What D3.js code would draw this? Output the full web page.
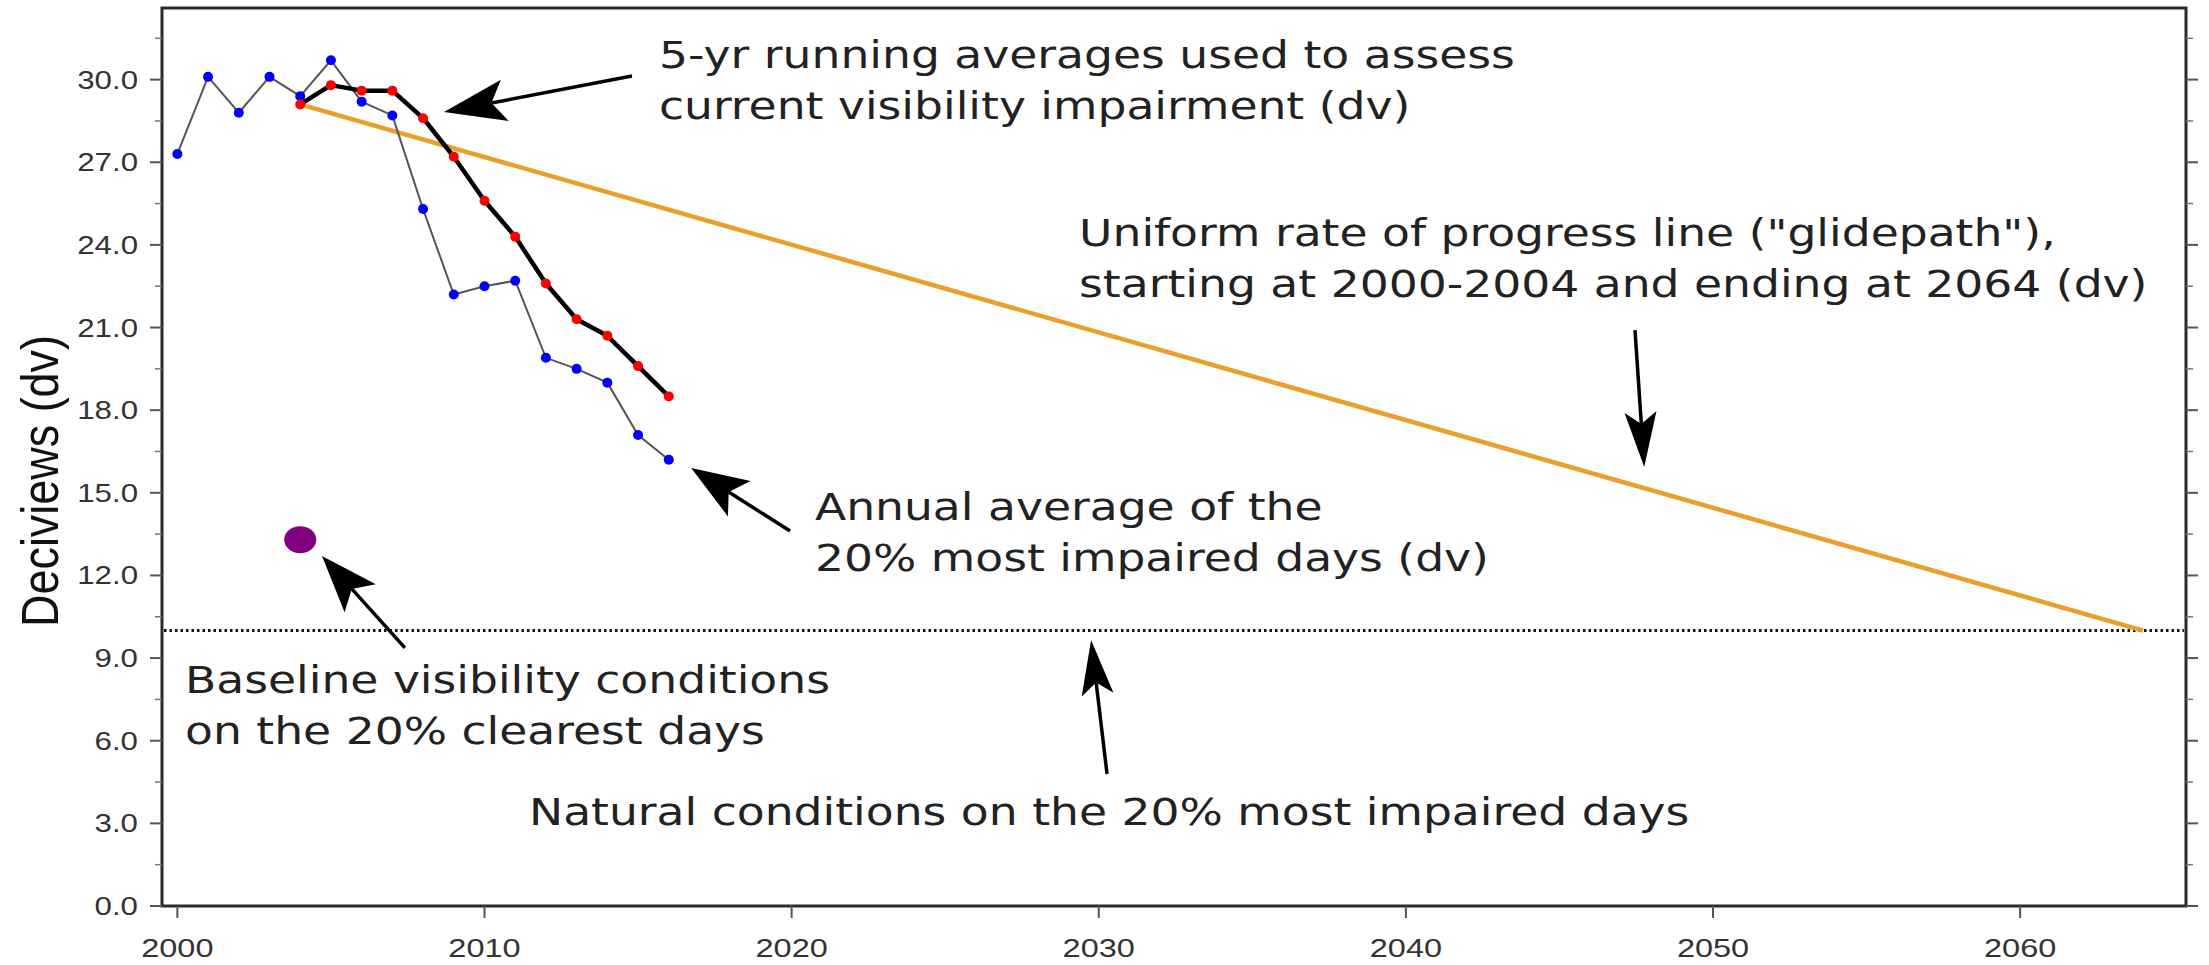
<!DOCTYPE html>
<html>
<head>
<meta charset="utf-8">
<script src="https://cdn.jsdelivr.net/npm/d3@7/dist/d3.min.js"></script>
<style>
  html, body { margin: 0; padding: 0; background: #fff; }
  svg { display: block; }
</style>
</head>
<body>
<svg id="chart" width="2209" height="965"></svg>
<script>
// ---------------- data ----------------
const annualYears = [2000, 2001, 2002, 2003, 2004, 2005, 2006, 2007, 2008, 2009, 2010, 2011, 2012, 2013, 2014, 2015, 2016];
const annualValues = [27.3, 30.1, 28.8, 30.1, 29.4, 30.7, 29.2, 28.7, 25.3, 22.2, 22.5, 22.7, 19.9, 19.5, 19.0, 17.1, 16.2];

const runningYears = [2004, 2005, 2006, 2007, 2008, 2009, 2010, 2011, 2012, 2013, 2014, 2015, 2016];
const runningValues = [29.1, 29.8, 29.6, 29.6, 28.6, 27.2, 25.6, 24.3, 22.6, 21.3, 20.7, 19.6, 18.5];

const glideYears = [2004, 2064];
const glideValues = [29.1, 10.0];

const naturalValue = 10.0;
const baselineYear = 2004;
const baselineValue = 13.3;

const xTickValues = [2000, 2010, 2020, 2030, 2040, 2050, 2060];
const yTickValues = [0, 3, 6, 9, 12, 15, 18, 21, 24, 27, 30];
const yMinorTickValues = [1.5, 4.5, 7.5, 10.5, 13.5, 16.5, 19.5, 22.5, 25.5, 28.5, 31.5];
const yAxisTitle = "Deciviews (dv)";

// annotations: text lines anchored in data units, arrows in data units [year, dv]
const annotations = [
  { lines: ["5-yr running averages used to assess", "current visibility impairment (dv)"], at: [2015.68, 30.42] },
  { lines: ["Uniform rate of progress line (\"glidepath\"),", "starting at 2000-2004 and ending at 2064 (dv)"], at: [2029.36, 23.96] },
  { lines: ["Annual average of the", "20% most impaired days (dv)"], at: [2020.76, 14.01] },
  { lines: ["Baseline visibility conditions", "on the 20% clearest days"], at: [2000.25, 7.73] },
  { lines: ["Natural conditions on the 20% most impaired days"], at: [2011.45, 2.94] }
];
const arrows = [
  { from: [2014.80, 30.13], to: [2008.68, 28.82], len: 62, half: 21 },
  { from: [2047.46, 20.91], to: [2047.76, 15.94], len: 55, half: 16 },
  { from: [2019.95, 13.61], to: [2016.73, 15.90], len: 57, half: 21 },
  { from: [2007.41, 9.37], to: [2004.71, 12.71], len: 57, half: 21 },
  { from: [2030.27, 4.79], to: [2029.75, 9.66], len: 55, half: 16 }
];

// ---------------- layout ----------------
const plot = { left: 162, right: 2186, top: 8, bottom: 906 };
const stretch = 1.25; // the reference is horizontally stretched

const svg = d3.select("#chart");
const x = d3.scaleLinear().domain([1999.5, 2065.4]).range([plot.left, plot.right]);
const y = d3.scaleLinear().domain([0, 32.6]).range([plot.bottom, plot.top]);

const axisColor = "#2a2a2a";

// frame
svg.append("rect")
  .attr("x", plot.left).attr("y", plot.top)
  .attr("width", plot.right - plot.left).attr("height", plot.bottom - plot.top)
  .attr("fill", "none").attr("stroke", axisColor).attr("stroke-width", 3);

// left axis ticks
const gl = svg.append("g");
gl.selectAll("line.maj").data(yTickValues).join("line")
  .attr("x1", plot.left - 12).attr("x2", plot.left)
  .attr("y1", d => y(d)).attr("y2", d => y(d))
  .attr("stroke", "#555").attr("stroke-width", 2);
gl.selectAll("line.min").data(yMinorTickValues).join("line")
  .attr("class", "min")
  .attr("x1", plot.left - 7).attr("x2", plot.left)
  .attr("y1", d => y(d)).attr("y2", d => y(d))
  .attr("stroke", "#777").attr("stroke-width", 1.5);
gl.selectAll("text").data(yTickValues).join("text")
  .attr("transform", d => `translate(${plot.left - 24},${y(d)}) scale(${stretch},1)`)
  .attr("text-anchor", "end").attr("dy", "0.36em")
  .attr("font-family", "'Liberation Sans', Arial, sans-serif")
  .attr("font-size", 25).attr("fill", "#333")
  .text(d => d.toFixed(1));

// right axis ticks (outward)
const gr = svg.append("g");
gr.selectAll("line.maj").data(yTickValues).join("line")
  .attr("x1", plot.right).attr("x2", plot.right + 12)
  .attr("y1", d => y(d)).attr("y2", d => y(d))
  .attr("stroke", "#555").attr("stroke-width", 2);
gr.selectAll("line.min").data(yMinorTickValues).join("line")
  .attr("class", "min")
  .attr("x1", plot.right).attr("x2", plot.right + 7)
  .attr("y1", d => y(d)).attr("y2", d => y(d))
  .attr("stroke", "#777").attr("stroke-width", 1.5);

// bottom axis ticks + labels
const gb = svg.append("g");
gb.selectAll("line").data(xTickValues).join("line")
  .attr("x1", d => x(d)).attr("x2", d => x(d))
  .attr("y1", plot.bottom).attr("y2", plot.bottom + 12)
  .attr("stroke", "#555").attr("stroke-width", 2);
gb.selectAll("text").data(xTickValues).join("text")
  .attr("transform", d => `translate(${x(d)},${plot.bottom + 51}) scale(${stretch},1)`)
  .attr("text-anchor", "middle")
  .attr("font-family", "'Liberation Sans', Arial, sans-serif")
  .attr("font-size", 26).attr("fill", "#333")
  .text(d => d);

// y axis title (length forced to match the reference)
svg.append("text")
  .attr("transform", `translate(39,481) scale(${stretch},1) rotate(-90)`)
  .attr("text-anchor", "middle").attr("dy", "0.36em")
  .attr("font-family", "'Liberation Sans', Arial, sans-serif")
  .attr("font-size", 42).attr("fill", "#111")
  .attr("textLength", 292).attr("lengthAdjust", "spacingAndGlyphs")
  .text(yAxisTitle);

// natural conditions dotted line
svg.append("line")
  .attr("x1", plot.left + 2).attr("x2", plot.right - 2)
  .attr("y1", y(naturalValue)).attr("y2", y(naturalValue))
  .attr("stroke", "#111").attr("stroke-width", 3)
  .attr("stroke-dasharray", "2.5,3");

// glidepath
const line = d3.line().x(d => x(d[0])).y(d => y(d[1]));
svg.append("path")
  .datum(d3.zip(glideYears, glideValues))
  .attr("d", line)
  .attr("fill", "none").attr("stroke", "#E8A028").attr("stroke-width", 4.5);

// annual series line
svg.append("path")
  .datum(d3.zip(annualYears, annualValues))
  .attr("d", line)
  .attr("fill", "none").attr("stroke", "#555").attr("stroke-width", 2);

// running average line
svg.append("path")
  .datum(d3.zip(runningYears, runningValues))
  .attr("d", line)
  .attr("fill", "none").attr("stroke", "#000").attr("stroke-width", 4.5)
  .attr("stroke-linejoin", "round");

// points
svg.append("g").selectAll("circle").data(d3.zip(annualYears, annualValues)).join("circle")
  .attr("cx", d => x(d[0])).attr("cy", d => y(d[1])).attr("r", 5)
  .attr("fill", "#0000ff");
svg.append("g").selectAll("circle").data(d3.zip(runningYears, runningValues)).join("circle")
  .attr("cx", d => x(d[0])).attr("cy", d => y(d[1])).attr("r", 5)
  .attr("fill", "#ff0000");

// baseline purple dot
svg.append("ellipse")
  .attr("cx", x(baselineYear)).attr("cy", y(baselineValue))
  .attr("rx", 16).attr("ry", 13.5)
  .attr("fill", "#800080");

// annotations text
const ga = svg.append("g");
annotations.forEach(a => {
  const t = ga.append("text")
    .attr("transform", `translate(${x(a.at[0])},${y(a.at[1])}) scale(${stretch},1)`)
    .attr("font-family", "'DejaVu Sans', Verdana, sans-serif")
    .attr("font-size", 36.5).attr("fill", "#222");
  a.lines.forEach((l, i) => {
    t.append("tspan").attr("x", 0).attr("y", i * 51).text(l);
  });
});

// arrows
const gArr = svg.append("g");
arrows.forEach(a => {
  const x1 = x(a.from[0]), y1 = y(a.from[1]);
  const x2 = x(a.to[0]), y2 = y(a.to[1]);
  const dx = x2 - x1, dy = y2 - y1;
  const L = Math.hypot(dx, dy);
  const ux = dx / L, uy = dy / L;
  const px = -uy, py = ux;
  const bx = x2 - ux * a.len, by = y2 - uy * a.len;
  const nx = x2 - ux * a.len * 0.78, ny = y2 - uy * a.len * 0.78;
  gArr.append("line")
    .attr("x1", x1).attr("y1", y1).attr("x2", nx).attr("y2", ny)
    .attr("stroke", "#000").attr("stroke-width", 3.5);
  gArr.append("path")
    .attr("d", `M${x2},${y2} L${bx + px * a.half},${by + py * a.half} L${nx},${ny} L${bx - px * a.half},${by - py * a.half} Z`)
    .attr("fill", "#000");
});
</script>
</body>
</html>
